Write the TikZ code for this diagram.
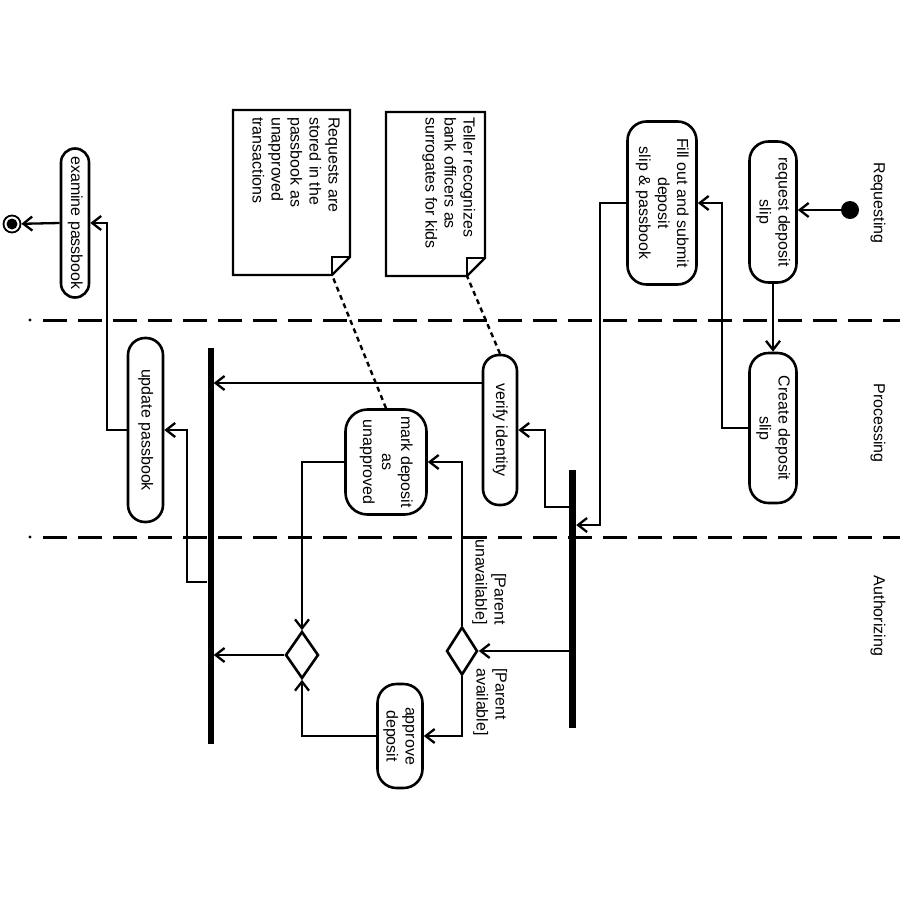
\documentclass[tikz,border=0pt]{standalone}
\usepackage{fontspec}
\setmainfont{Liberation Sans}
\usetikzlibrary{arrows.meta,shapes.geometric}
\newcommand{\rtext}[2][c]{\rotatebox{-90}{\begin{tabular}{@{}#1@{}}#2\end{tabular}}}
\tikzset{
  act/.style={draw, line width=2.6pt, fill=white, rounded corners=19pt, inner sep=0pt},
  decision/.style={draw, diamond, line width=2.6pt, fill=white, inner sep=0pt},
  bar/.style={fill=black, draw=none, inner sep=0pt, minimum width=7pt},
  flow/.style={line width=2.3pt, -{Straight Barb[length=9pt,width=14pt]}},
  anchorline/.style={line width=2.4pt, dash pattern=on 5pt off 4pt},
  lane/.style={line width=3pt, dash pattern=on 24pt off 11pt},
  note/.style={draw, line width=2.4pt, fill=white, line join=miter},
  lbl/.style={inner sep=0pt}
}
\begin{document}
\begin{tikzpicture}[x=1pt,y=-1pt,font=\fontsize{16}{19}\selectfont]
\useasboundingbox[fill=white] (0,0) rectangle (900,900);
% swimlane separators
\fill (30,320) circle (1.6pt);
\fill (30,537) circle (1.6pt);
\draw[lane] (43,320) -- (900,320);
\draw[lane] (43,537) -- (900,537);
% lane labels
\node[lbl] (lreq) at (878,203) {\rotatebox{-90}{Requesting}};
\node[lbl] (lpro) at (878,423) {\rotatebox{-90}{Processing}};
\node[lbl] (laut) at (878,616) {\rotatebox{-90}{Authorizing}};
% notes
\draw[note] (386,112) -- (485,112) -- (485,258) -- (467,276) -- (386,276) -- cycle;
\draw[line width=2.4pt] (467,276) -- (467,258) -- (485,258);
\coordinate (n1c) at (467,276);
\node[lbl, anchor=north east] (t1) at (477,117) {\rtext[l]{Teller recognizes\\bank officers as\\surrogates for kids}};
\draw[note] (233,110) -- (350,110) -- (350,257) -- (332,275) -- (233,275) -- cycle;
\draw[line width=2.4pt] (332,275) -- (332,257) -- (350,257);
\coordinate (n2c) at (332,275);
\node[lbl, anchor=north east] (t2) at (342,117) {\rtext[l]{Requests are\\stored in the\\passbook as\\unapproved\\transactions}};
% nodes
\node[circle, fill=black, minimum size=18pt, inner sep=0pt] (init) at (850,210) {};
\node[act, minimum width=47pt, minimum height=141pt] (req) at (773,212) {\rtext{request deposit\\slip}};
\node[act, minimum width=69pt, minimum height=163pt] (fill) at (662,203) {\rtext{Fill out and submit\\deposit\\slip \& passbook}};
\node[act, minimum width=47pt, minimum height=150pt] (create) at (773,428) {\rtext{Create deposit\\slip}};
\node[bar, minimum height=258pt] (bar1) at (572.5,599) {};
\node[act, minimum width=34pt, minimum height=150pt, rounded corners=16pt] (verify) at (500,430) {\rtext{verify identity}};
\node[decision, minimum width=31pt, minimum height=48pt] (dec1) at (462,651) {};
\node[act, minimum width=81pt, minimum height=105pt, rounded corners=22pt] (mark) at (386,462) {\rtext{mark deposit\\as\\unapproved}};
\node[act, minimum width=45pt, minimum height=104pt] (approve) at (400,736) {\rtext{approve\\deposit}};
\node[decision, minimum width=33pt, minimum height=47pt] (dec2) at (302,655) {};
\node[bar, minimum width=6pt, minimum height=396pt] (bar2) at (210.5,546) {};
\node[act, minimum width=35pt, minimum height=184pt, rounded corners=17pt] (update) at (145.5,430) {\rtext{update passbook}};
\node[act, minimum width=28pt, minimum height=149pt, rounded corners=14pt] (examine) at (75,223) {\rtext{examine passbook}};
\node[circle, draw, line width=1.8pt, minimum size=17pt, inner sep=0pt] (final) at (12,224) {};
\fill (final) circle (5.5pt);
% guard labels
\node[lbl] (gun) at (489,582) {\rtext[r]{[Parent\\unavailable]}};
\node[lbl] (gav) at (490,702) {\rtext[l]{[Parent\\available]}};
% connectors
\draw[flow] (init) -- (req.east |- init);
\draw[flow] (req.south) -- (create.north);
\draw[flow] (create.west) -- ++(-26,0) |- (fill.east);
\draw[flow] (fill.west) -- ++(-26,0) |- (bar1.east |- 0,525);
\draw[flow] (bar1.west |- 0,507) -- (545,507) |- (verify.east);
\draw[flow] (bar1.west |- dec1) -- (dec1.east);
\draw[flow] (dec1.north) |- (mark.east);
\draw[flow] (dec1.south) |- (approve.east);
\draw[flow] (approve.west) -| (dec2.south);
\draw[flow] (mark.west) -| (dec2.north);
\draw[flow] (dec2.west) -- (bar2.east |- dec2.west);
\draw[flow] (verify.west |- 0,383) -- (bar2.east |- 0,383);
\draw[flow] (bar2.west |- 0,582) -- (187,582) |- (update.east);
\draw[flow] (update.west) -- (107,430) |- (examine.east);
\draw[flow] (examine.west) -- (final);
\draw[anchorline] (verify.north) -- (n1c);
\draw[anchorline] (mark.north) -- (n2c);
\end{tikzpicture}
\end{document}
